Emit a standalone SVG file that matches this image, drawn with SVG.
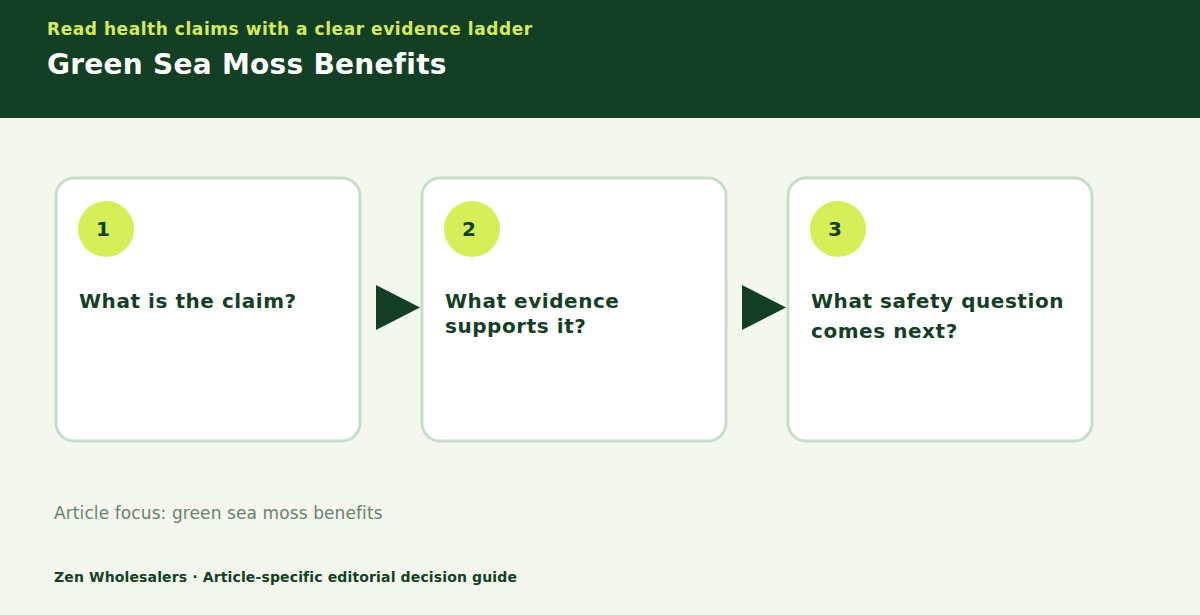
<svg xmlns="http://www.w3.org/2000/svg" width="1200" height="615" viewBox="0 0 1200 615">
<style>
.bg{fill:#f3f7ee}
.hdr{fill:#133f24}
.sub{font-family:"DejaVu Sans",sans-serif;font-weight:bold;font-size:17px;letter-spacing:0.55px;fill:#d5eb5c}
.ttl{font-family:"DejaVu Sans",sans-serif;font-weight:bold;font-size:28px;letter-spacing:0.27px;fill:#ffffff}
.card{fill:#ffffff;stroke:#c9dccb;stroke-width:3}
.badge{fill:#d6ee58}
.num{font-family:"DejaVu Sans",sans-serif;font-weight:bold;font-size:20px;fill:#143f25;text-anchor:middle}
.q{font-family:"DejaVu Sans",sans-serif;font-weight:bold;font-size:20px;letter-spacing:0.55px;fill:#143f25}
.arr{fill:#133f24}
.focus{font-family:"DejaVu Sans",sans-serif;font-size:17px;letter-spacing:0.1px;fill:#6b806f}
.foot{font-family:"DejaVu Sans",sans-serif;font-weight:bold;font-size:14px;letter-spacing:0.14px;fill:#143f25}
</style>
<rect class="bg" x="0" y="0" width="1200" height="615"/>
<rect class="hdr" x="0" y="0" width="1200" height="118"/>
<text class="sub" x="47" y="35">Read health claims with a clear evidence ladder</text>
<text class="ttl" x="47" y="74">Green Sea Moss Benefits</text>
<g id="step1">
<rect class="card" x="56" y="178" width="304" height="263" rx="18"/>
<circle class="badge" cx="106" cy="229" r="28"/>
<text class="num" x="103" y="236">1</text>
<text class="q" x="79" y="308">What is the claim?</text>
</g>
<g id="step2">
<rect class="card" x="422" y="178" width="304" height="263" rx="18"/>
<circle class="badge" cx="472" cy="229" r="28"/>
<text class="num" x="469" y="236">2</text>
<text class="q" x="445" y="308">What evidence</text>
<text class="q" x="445" y="333">supports it?</text>
</g>
<g id="step3">
<rect class="card" x="788" y="178" width="304" height="263" rx="18"/>
<circle class="badge" cx="838" cy="229" r="28"/>
<text class="num" x="835" y="236">3</text>
<text class="q" x="811" y="308">What safety question</text>
<text class="q" x="811" y="338">comes next?</text>
</g>
<g id="connectors">
<polygon class="arr" points="376,285 420,307.5 376,330"/>
<polygon class="arr" points="742,285 786,307.5 742,330"/>
</g>
<text class="focus" x="54" y="519">Article focus: green sea moss benefits</text>
<text class="foot" x="54" y="582">Zen Wholesalers · Article-specific editorial decision guide</text>
</svg>
